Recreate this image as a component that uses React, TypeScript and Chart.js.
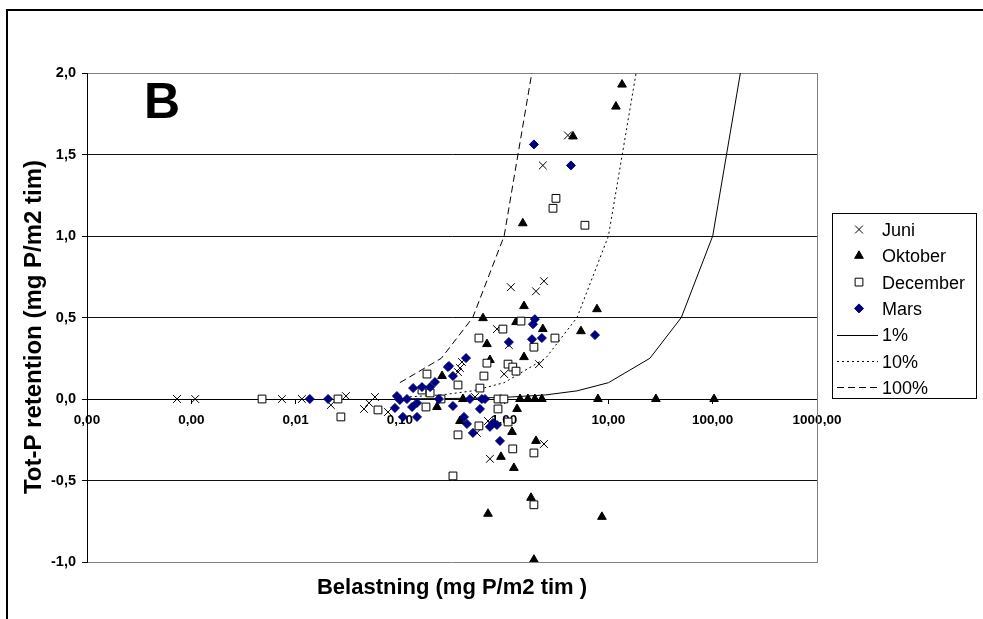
import React, { useEffect, useRef } from 'react';
import { Chart, registerables } from 'chart.js';

Chart.register(...registerables);

// ---------- data ----------
const panelLabel = 'B';
const xTitle = 'Belastning (mg P/m2 tim )';
const yTitle = 'Tot-P retention (mg P/m2 tim)';

const xTickValues = [0.0001, 0.001, 0.01, 0.1, 1, 10, 100, 1000];
const yMin = -1;
const yMax = 2;
const yStep = 0.5;

const juniX = [0.00073, 0.00109, 0.0074, 0.0115, 0.0218, 0.0304, 0.0453, 0.0506, 0.0577, 0.0769, 0.377, 0.394, 0.361, 0.525, 0.548, 0.70, 0.731, 0.853, 1.11, 1.0, 1.16, 2.02, 2.41, 2.16, 4.09, 2.35, 2.41];
const juniY = [0, 0, 0, 0, -0.037, 0.018, -0.061, -0.024, 0.012, -0.08, 0.19, 0.227, 0.165, 0.012, -0.208, -0.135, -0.367, 0.429, 0.331, 0.153, 0.686, 0.661, 0.723, 0.214, 1.617, 1.433, -0.276];

const oktX = [13.5, 11.8, 4.57, 1.51, 1.55, 0.627, 1.30, 2.35, 0.684, 1.55, 5.45, 7.76, 0.254, 0.731, 0.403, 0.227, 0.377, 1.19, 1.33, 1.42, 1.69, 1.97, 2.30, 2.02, 0.932, 1.24, 1.81, 0.70, 8.66, 1.93, 7.93, 28.5, 103];
const oktY = [1.929, 1.794, 1.611, 1.078, 0.57, 0.496, 0.472, 0.429, 0.337, 0.257, 0.416, 0.551, 0.141, 0.239, 0, -0.049, -0.135, -0.202, -0.061, 0, 0, 0, 0, -0.257, -0.355, -0.423, -0.606, -0.704, -0.723, -0.986, 0, 0, 0];

const decX = [0.00477, 0.0255, 0.0272, 0.0617, 0.182, 0.163, 0.178, 0.195, 0.248, 0.361, 0.361, 0.323, 0.586, 0.64, 0.684, 0.573, 0.973, 1.45, 1.09, 1.21, 1.30, 1.93, 3.07, 3.14, 2.94, 5.95, 0.873, 0.995, 0.873, 1.09, 0.573, 1.21, 1.93, 1.93];
const decY = [0, 0, -0.11, -0.067, 0.153, 0.055, -0.049, 0.037, 0, 0.086, -0.22, -0.472, 0.067, 0.141, 0.22, 0.374, 0.429, 0.478, 0.214, 0.196, 0.171, 0.318, 0.374, 1.231, 1.17, 1.066, 0, 0, -0.061, -0.141, -0.165, -0.306, -0.331, -0.649];

const marsX = [0.0137, 0.0205, 0.0937, 0.1, 0.0897, 0.107, 0.117, 0.134, 0.131, 0.146, 0.146, 0.163, 0.195, 0.217, 0.289, 0.323, 0.431, 0.323, 0.237, 0.586, 0.412, 0.44, 0.502, 0.47, 0.612, 0.731, 0.782, 0.853, 0.912, 1.11, 1.85, 1.97, 1.89, 2.30, 1.93, 4.37, 7.43, 0.296, 0.655];
const marsY = [0, 0, 0.018, -0.006, -0.055, -0.11, 0, 0.067, -0.049, -0.11, -0.024, 0.073, 0.073, 0.104, 0.196, 0.141, 0.251, -0.043, 0, -0.061, -0.11, -0.153, -0.208, 0, 0, -0.171, -0.147, -0.159, -0.257, 0.349, 0.367, 0.49, 0.459, 0.374, 1.562, 1.433, 0.392, 0.202, 0];

const curveX = [0.1, 0.25, 0.5, 1, 2.5, 5, 10, 25, 50, 100, 250];
const curve1Y = [0.001, 0.0025, 0.005, 0.01, 0.025, 0.05, 0.1, 0.25, 0.5, 1, 2.5];
const curve10Y = [0.01, 0.025, 0.05, 0.1, 0.25, 0.5, 1, 2.5, 5, 10, 25];
const curve100Y = [0.1, 0.25, 0.5, 1, 2.5, 5, 10, 25, 50, 100, 250];

// ---------- helpers ----------
const FONT = '"Liberation Sans", Arial, Helvetica, sans-serif';

const pts = (xs: number[], ys: number[]) => xs.map((x, i) => ({ x, y: ys[i] }));

const fmtComma = (v: number, d: number) => v.toFixed(d).replace('.', ',');

function drawMarker(ctx: CanvasRenderingContext2D, style: string, x: number, y: number, r: number, fill: string, stroke: string) {
  ctx.save();
  ctx.fillStyle = fill;
  ctx.strokeStyle = stroke;
  ctx.lineWidth = 1;
  ctx.beginPath();
  if (style === 'crossRot') {
    const o = Math.SQRT1_2 * r;
    ctx.moveTo(x - o, y - o); ctx.lineTo(x + o, y + o);
    ctx.moveTo(x - o, y + o); ctx.lineTo(x + o, y - o);
    ctx.stroke();
  } else if (style === 'triangle') {
    ctx.moveTo(x, y - r);
    ctx.lineTo(x + Math.sin(2 * Math.PI / 3) * r, y + r / 2);
    ctx.lineTo(x - Math.sin(2 * Math.PI / 3) * r, y + r / 2);
    ctx.closePath();
    ctx.fill(); ctx.stroke();
  } else if (style === 'rect') {
    const s = Math.SQRT1_2 * r;
    ctx.rect(x - s, y - s, 2 * s, 2 * s);
    ctx.fill(); ctx.stroke();
  } else if (style === 'rectRot') {
    ctx.moveTo(x, y - r); ctx.lineTo(x + r, y); ctx.lineTo(x, y + r); ctx.lineTo(x - r, y);
    ctx.closePath();
    ctx.fill(); ctx.stroke();
  }
  ctx.restore();
}

const decorPlugin = {
  id: 'decor',
  beforeDraw(chart: any) {
    const ctx: CanvasRenderingContext2D = chart.ctx;
    ctx.save();
    ctx.fillStyle = '#ffffff';
    ctx.fillRect(0, 0, chart.width, chart.height);
    ctx.strokeStyle = '#000000';
    ctx.lineWidth = 2;
    ctx.beginPath();
    ctx.moveTo(7, chart.height + 5);
    ctx.lineTo(7, 10);
    ctx.lineTo(chart.width + 5, 10);
    ctx.stroke();
    ctx.restore();
  },
  afterDraw(chart: any) {
    const ctx: CanvasRenderingContext2D = chart.ctx;
    const a = chart.chartArea;
    ctx.save();
    // plot area right border
    ctx.strokeStyle = '#808080';
    ctx.lineWidth = 1;
    const rx = Math.round(a.right) + 0.5;
    ctx.beginPath();
    ctx.moveTo(rx, a.top);
    ctx.lineTo(rx, a.bottom + 1);
    ctx.stroke();

    // panel label
    ctx.fillStyle = '#000';
    ctx.font = `bold 50px ${FONT}`;
    ctx.textAlign = 'left';
    ctx.textBaseline = 'alphabetic';
    ctx.fillText(panelLabel, a.left + 57, a.top + 45);

    // axis titles
    ctx.font = `bold 22px ${FONT}`;
    ctx.textAlign = 'center';
    ctx.fillText(xTitle, (a.left + a.right) / 2, 594);
    ctx.save();
    ctx.font = `bold 24px ${FONT}`;
    ctx.translate(41, 327);
    ctx.rotate(-Math.PI / 2);
    ctx.fillText(yTitle, 0, 0);
    ctx.restore();

    // legend
    const lx = 832, ly = 213, lw = 144, lh = 185;
    ctx.strokeStyle = '#000';
    ctx.lineWidth = 1;
    ctx.strokeRect(lx + 0.5, ly + 0.5, lw, lh);
    ctx.font = `18px ${FONT}`;
    ctx.textAlign = 'left';
    ctx.textBaseline = 'alphabetic';
    chart.data.datasets.forEach((ds: any, i: number) => {
      const cy = 229.5 + i * 26.3;
      if (ds.showLine) {
        ctx.save();
        ctx.strokeStyle = ds.borderColor;
        ctx.lineWidth = ds.borderWidth;
        ctx.setLineDash(ds.borderDash || []);
        ctx.beginPath();
        ctx.moveTo(837, Math.round(cy) + 0.5);
        ctx.lineTo(878, Math.round(cy) + 0.5);
        ctx.stroke();
        ctx.restore();
      } else {
        drawMarker(ctx, ds.pointStyle, 859, cy, ds.pointRadius, ds.pointBackgroundColor, ds.pointBorderColor);
      }
      ctx.fillStyle = '#000';
      ctx.fillText(ds.label, 882, cy + 6.5);
    });
    ctx.restore();
  },
};

export default function App() {
  const canvasRef = useRef<HTMLCanvasElement | null>(null);

  useEffect(() => {
    if (!canvasRef.current) return;
    const marker = (label: string, xs: number[], ys: number[], style: string, r: number, fill: string, stroke: string, order: number) => ({
      label,
      data: pts(xs, ys),
      showLine: false,
      pointStyle: style,
      pointRadius: r,
      pointHoverRadius: r,
      pointBackgroundColor: fill,
      pointBorderColor: stroke,
      pointBorderWidth: 1,
      backgroundColor: fill,
      borderColor: stroke,
      order,
    });
    const curve = (label: string, ys: number[], dash: number[]) => ({
      label,
      data: pts(curveX, ys),
      showLine: true,
      borderColor: '#000',
      backgroundColor: '#000',
      borderWidth: 1,
      borderDash: dash,
      pointRadius: 0,
      pointHoverRadius: 0,
      fill: false,
      tension: 0,
      order: 10,
    });

    const chart = new Chart(canvasRef.current, {
      type: 'scatter',
      data: {
        datasets: [
          marker('Juni', juniX, juniY, 'crossRot', 5.5, '#000', '#000', 4),
          marker('Oktober', oktX, oktY, 'triangle', 5, '#000', '#000', 3),
          marker('December', decX, decY, 'rect', 5.5, '#fff', '#000', 2),
          marker('Mars', marsX, marsY, 'rectRot', 4.5, '#000080', '#000080', 1),
          curve('1%', curve1Y, []),
          curve('10%', curve10Y, [2, 3]),
          curve('100%', curve100Y, [7, 4]),
        ] as any,
      },
      options: {
        animation: false,
        responsive: false,
        devicePixelRatio: 1,
        events: [],
        layout: { padding: { left: 7, right: 166, top: 73, bottom: 57 } },
        plugins: {
          legend: { display: false },
          tooltip: { enabled: false },
          title: { display: false },
        },
        scales: {
          x: {
            type: 'logarithmic',
            position: { y: 0 } as any,
            min: xTickValues[0],
            max: xTickValues[xTickValues.length - 1],
            afterBuildTicks: (scale: any) => {
              scale.ticks = xTickValues.map((v) => ({ value: v }));
            },
            ticks: {
              autoSkip: false,
              maxRotation: 0,
              minRotation: 0,
              padding: 9,
              color: '#000',
              font: { family: FONT, size: 13.5, weight: 'bold' },
              callback: (v: any) => fmtComma(Number(v), 2),
            },
            grid: { drawOnChartArea: false, drawTicks: true, tickLength: 4, color: '#000' },
            border: { display: true, color: '#000', width: 1 },
            title: { display: false },
          },
          y: {
            type: 'linear',
            position: 'left',
            min: yMin,
            max: yMax,
            afterFit: (scale: any) => {
              scale.width = 80;
            },
            ticks: {
              stepSize: yStep,
              padding: 6,
              color: '#000',
              font: { family: FONT, size: 14.5, weight: 'bold' },
              callback: (v: any) => fmtComma(Number(v), 1),
            },
            grid: {
              drawOnChartArea: true,
              tickLength: 5,
              color: (c: any) => (c.tick && (c.tick.value === yMax || c.tick.value === yMin) ? '#808080' : '#111'),
              tickColor: '#000',
            },
            border: { display: true, color: '#000', width: 1 },
            title: { display: false },
          },
        },
      } as any,
      plugins: [decorPlugin],
    });
    return () => chart.destroy();
  }, []);

  return (
    <div style={{ position: 'absolute', left: 0, top: 0, width: 983, height: 619, background: '#fff' }}>
      <canvas ref={canvasRef} width={983} height={619} style={{ display: 'block', width: 983, height: 619 }} />
    </div>
  );
}
